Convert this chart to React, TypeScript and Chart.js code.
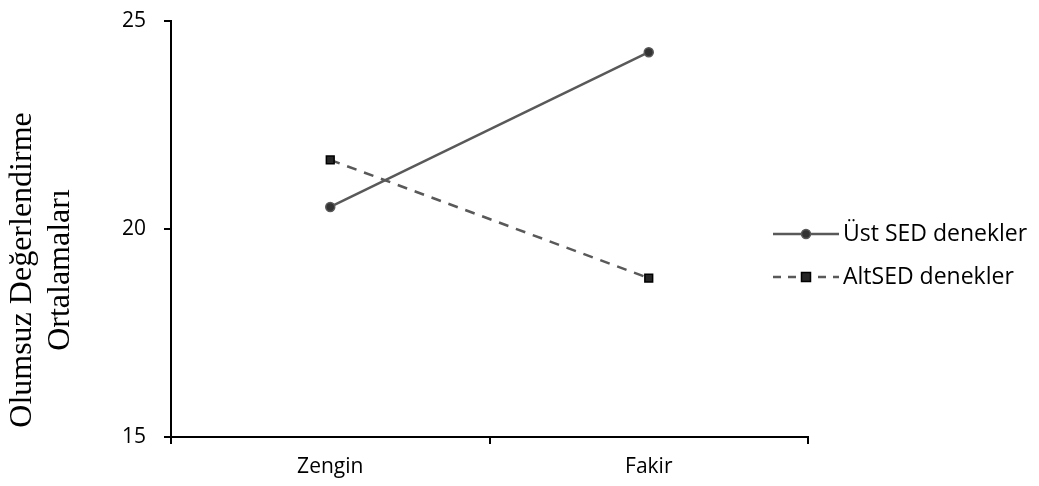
import React, { useEffect, useRef } from "react";
import { Chart, registerables } from "chart.js";

Chart.register(...registerables);

const categories = ["Zengin", "Fakir"];
const ustSeries = [20.53, 24.25];
const altSeries = [21.66, 18.82];
const seriesLabels = ["Üst SED denekler", "AltSED denekler"];
const yTicks = [15, 20, 25];
const yTitleLines = ["Olumsuz Değerlendirme", "Ortalamaları"];

const W = 1039;
const H = 486;
const AREA = { left: 171, top: 21, right: 808, bottom: 437 };
const SANS = "'Open Sans', 'Noto Sans', sans-serif";
const SERIF = "'Liberation Serif', 'DejaVu Serif', serif";

function drawMarker(ctx: CanvasRenderingContext2D, style: string, x: number, y: number) {
  ctx.save();
  ctx.setLineDash([]);
  if (style === "circle") {
    ctx.beginPath();
    ctx.arc(x, y, 4.5, 0, Math.PI * 2);
    ctx.fillStyle = "#333333";
    ctx.fill();
    ctx.lineWidth = 1.5;
    ctx.strokeStyle = "#595959";
    ctx.stroke();
  } else {
    ctx.fillStyle = "#262626";
    ctx.fillRect(x - 4.5, y - 4.5, 9, 9);
    ctx.lineWidth = 1.5;
    ctx.strokeStyle = "#000000";
    ctx.strokeRect(x - 4.5, y - 4.5, 9, 9);
  }
  ctx.restore();
}

const overlayPlugin = {
  id: "overlay",
  afterDraw(chart: any) {
    const ctx: CanvasRenderingContext2D = chart.ctx;
    // y-axis title
    ctx.save();
    ctx.translate(42, 270);
    ctx.rotate(-Math.PI / 2);
    ctx.fillStyle = "#000";
    ctx.font = `32px ${SERIF}`;
    ctx.textAlign = "center";
    ctx.textBaseline = "middle";
    ctx.fillText(yTitleLines[0], 0, -19);
    ctx.fillText(yTitleLines[1], 0, 19);
    ctx.restore();

    // legend
    const items = chart.data.datasets.map((d: any, i: number) => ({
      label: d.label,
      color: d.borderColor,
      dash: d.borderDash ? [8, 7] : [],
      style: d.pointStyle,
      y: 234 + i * 43,
    }));
    items.forEach((it: any) => {
      ctx.save();
      ctx.strokeStyle = it.color;
      ctx.lineWidth = 2.5;
      ctx.setLineDash(it.dash);
      ctx.beginPath();
      ctx.moveTo(773, it.y);
      ctx.lineTo(839, it.y);
      ctx.stroke();
      ctx.restore();
      drawMarker(ctx, it.style, 806, it.y);
      ctx.save();
      ctx.fillStyle = "#000";
      ctx.font = `23px ${SANS}`;
      ctx.textAlign = "left";
      ctx.textBaseline = "middle";
      ctx.fillText(it.label, 843, it.y);
      ctx.restore();
    });
  },
};

export default function App() {
  const ref = useRef<HTMLCanvasElement | null>(null);
  useEffect(() => {
    document.body.style.margin = "0";
    const canvas = ref.current;
    if (!canvas) return;
    const chart = new Chart(canvas, {
      type: "line",
      data: {
        labels: categories,
        datasets: [
          {
            label: seriesLabels[0],
            data: ustSeries,
            borderColor: "#595959",
            borderWidth: 2.5,
            pointStyle: "circle",
            pointRadius: 4.5,
            pointBackgroundColor: "#333333",
            pointBorderColor: "#595959",
            pointBorderWidth: 1.5,
            fill: false,
            tension: 0,
          },
          {
            label: seriesLabels[1],
            data: altSeries,
            borderColor: "#595959",
            borderWidth: 2.5,
            borderDash: [10, 8],
            pointStyle: "rect",
            pointRadius: 5.5,
            pointBackgroundColor: "#262626",
            pointBorderColor: "#000000",
            pointBorderWidth: 1.5,
            fill: false,
            tension: 0,
          },
        ],
      },
      options: {
        responsive: false,
        animation: false,
        devicePixelRatio: 1,
        layout: {
          padding: { left: 0, top: AREA.top, right: W - AREA.right, bottom: 0 },
        },
        plugins: {
          legend: { display: false },
          tooltip: { enabled: false },
          title: { display: false },
        },
        scales: {
          x: {
            type: "category",
            offset: true,
            grid: {
              offset: true,
              drawOnChartArea: false,
              drawTicks: true,
              tickLength: 7,
              color: "#000",
              lineWidth: 2,
            },
            border: { display: true, color: "#000", width: 2 },
            ticks: {
              color: "#000",
              font: { family: SANS, size: 21 },
              padding: 10,
            },
            afterFit(scale: any) {
              scale.height = H - AREA.bottom;
              scale.paddingLeft = 0;
              scale.paddingRight = 0;
            },
          },
          y: {
            min: 15,
            max: 25,
            afterBuildTicks(scale: any) {
              scale.ticks = yTicks.map((v) => ({ value: v }));
            },
            grid: {
              drawOnChartArea: false,
              drawTicks: true,
              tickLength: 7,
              color: "#000",
              lineWidth: 2,
            },
            border: { display: true, color: "#000", width: 2 },
            ticks: {
              color: "#000",
              font: { family: SANS, size: 21 },
              padding: 18,
            },
            afterFit(scale: any) {
              scale.width = AREA.left;
              scale.paddingTop = 0;
              scale.paddingBottom = 0;
            },
          },
        },
      },
      plugins: [overlayPlugin],
    });
    return () => chart.destroy();
  }, []);
  return (
    <div style={{ width: W, height: H, background: "#fff" }}>
      <canvas ref={ref} width={W} height={H} />
    </div>
  );
}
